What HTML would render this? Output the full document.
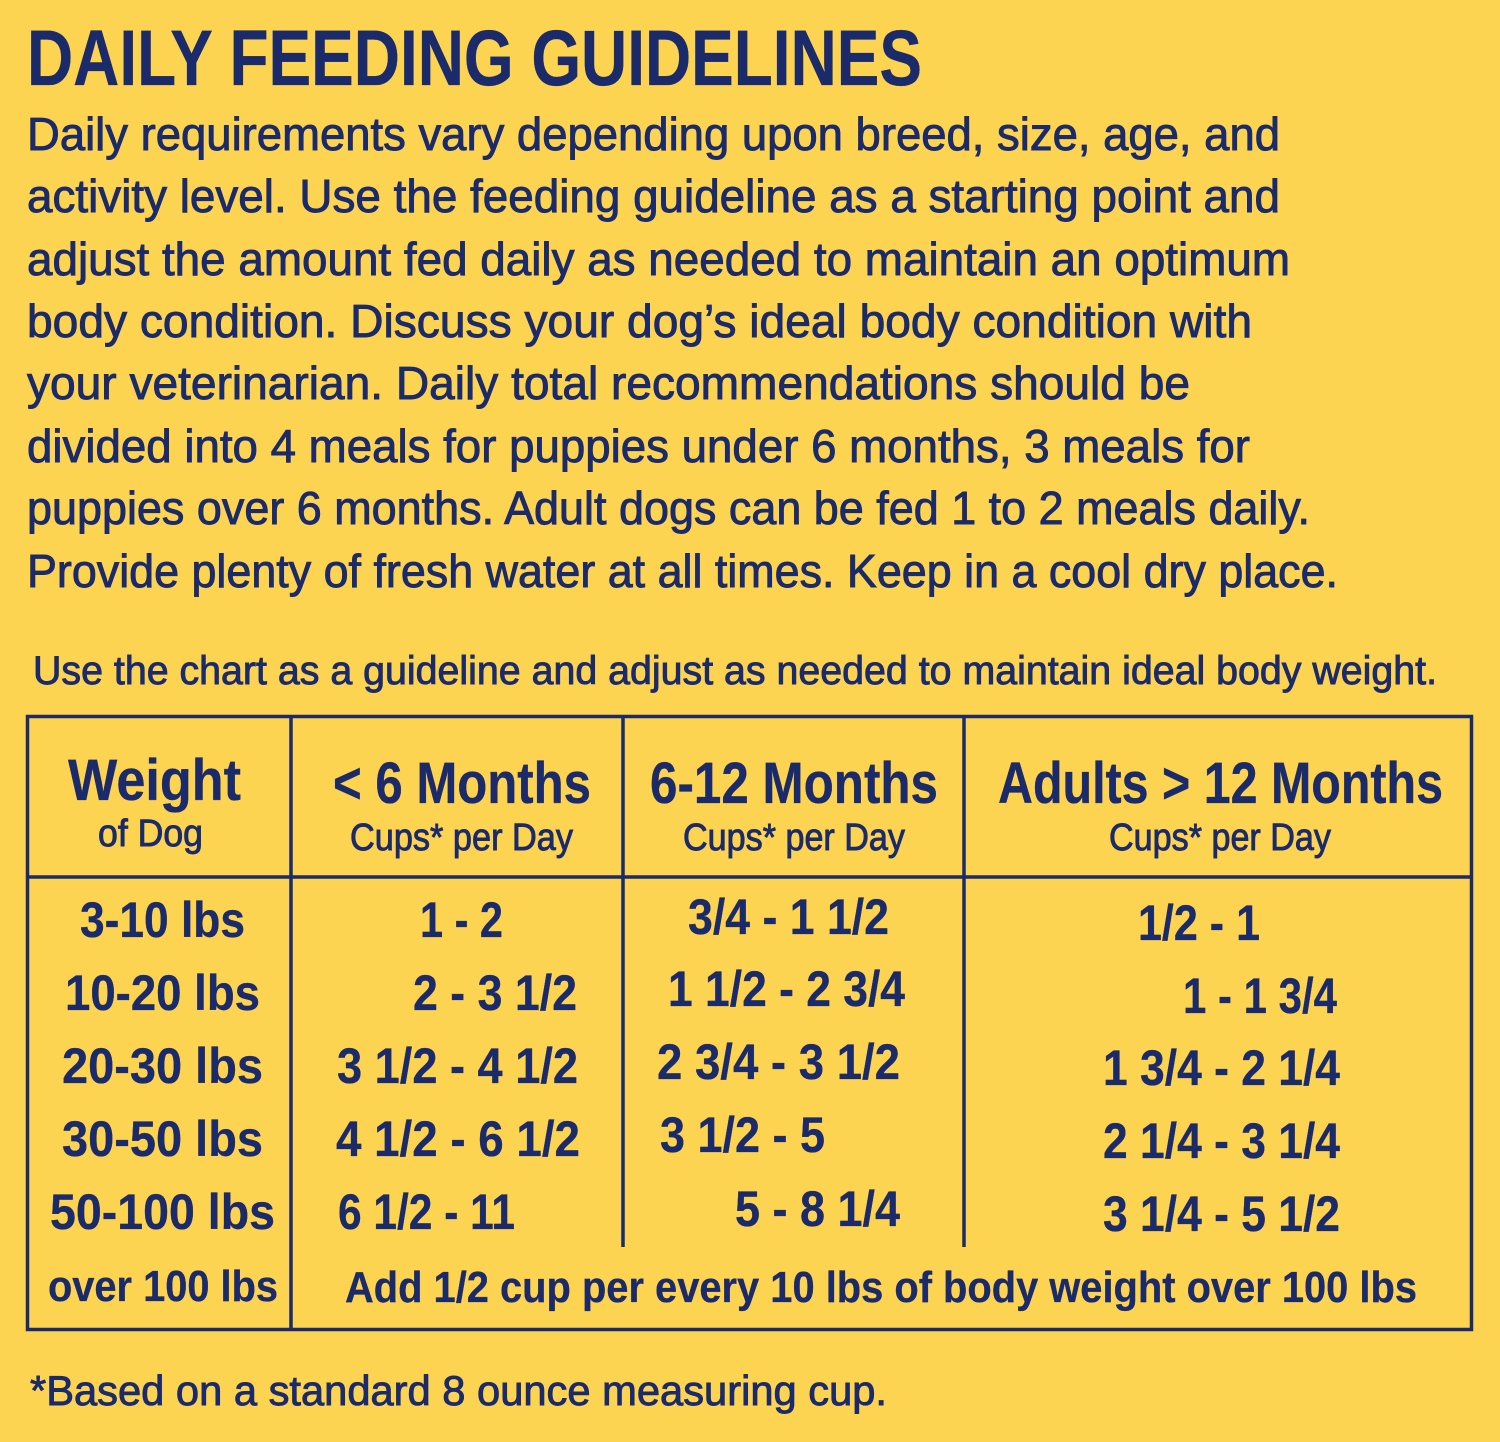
<!DOCTYPE html>
<html><head><meta charset="utf-8"><style>
html,body{margin:0;padding:0;background:#FDD451;}
svg{display:block}
text{font-family:"Liberation Sans Narrow","Liberation Sans",sans-serif;fill:#1B2A6B;stroke:#1B2A6B;stroke-width:0.9}
.b{font-weight:bold;stroke-width:0.3}
</style></head><body>
<svg width="1500" height="1442" viewBox="0 0 1500 1442" xmlns="http://www.w3.org/2000/svg">
<rect width="1500" height="1442" fill="#FDD451"/>
<g>
<text class="b" x="27" y="85" font-size="79" textLength="895" lengthAdjust="spacingAndGlyphs">DAILY FEEDING GUIDELINES</text>
<g font-size="46">
<text x="27" y="150" textLength="1253" lengthAdjust="spacingAndGlyphs">Daily requirements vary depending upon breed, size, age, and</text>
<text x="27" y="212" textLength="1253" lengthAdjust="spacingAndGlyphs">activity level. Use the feeding guideline as a starting point and</text>
<text x="27" y="275" textLength="1263" lengthAdjust="spacingAndGlyphs">adjust the amount fed daily as needed to maintain an optimum</text>
<text x="27" y="337" textLength="1225" lengthAdjust="spacingAndGlyphs">body condition. Discuss your dog’s ideal body condition with</text>
<text x="27" y="399" textLength="1163" lengthAdjust="spacingAndGlyphs">your veterinarian. Daily total recommendations should be</text>
<text x="27" y="462" textLength="1223" lengthAdjust="spacingAndGlyphs">divided into 4 meals for puppies under 6 months, 3 meals for</text>
<text x="27" y="524" textLength="1283" lengthAdjust="spacingAndGlyphs">puppies over 6 months. Adult dogs can be fed 1 to 2 meals daily.</text>
<text x="27" y="587" textLength="1311" lengthAdjust="spacingAndGlyphs">Provide plenty of fresh water at all times. Keep in a cool dry place.</text>
</g>
<text x="33" y="684" font-size="40" textLength="1404" lengthAdjust="spacingAndGlyphs">Use the chart as a guideline and adjust as needed to maintain ideal body weight.</text>
</g>
<g stroke="#1B2A6B" stroke-width="3.5" fill="none">
<rect x="27.5" y="716.5" width="1444" height="613"/>
<line x1="27" y1="877" x2="1472" y2="877"/>
<line x1="291" y1="716" x2="291" y2="1330"/>
<line x1="623" y1="716" x2="623" y2="1247"/>
<line x1="964" y1="716" x2="964" y2="1247"/>
</g>
<g font-size="58">
<text class="b" x="68" y="800" textLength="173" lengthAdjust="spacingAndGlyphs">Weight</text>
<text class="b" x="333" y="803" textLength="258" lengthAdjust="spacingAndGlyphs">&lt; 6 Months</text>
<text class="b" x="650" y="803" textLength="288" lengthAdjust="spacingAndGlyphs">6-12 Months</text>
<text class="b" x="998" y="803" textLength="445" lengthAdjust="spacingAndGlyphs">Adults &gt; 12 Months</text>
</g>
<g font-size="38">
<text x="98" y="846" textLength="105" lengthAdjust="spacingAndGlyphs">of Dog</text>
<text x="350" y="850" textLength="223" lengthAdjust="spacingAndGlyphs">Cups* per Day</text>
<text x="683" y="850" textLength="222" lengthAdjust="spacingAndGlyphs">Cups* per Day</text>
<text x="1109" y="850" textLength="222" lengthAdjust="spacingAndGlyphs">Cups* per Day</text>
</g>
<g font-size="50">
<text class="b" x="80" y="937" textLength="165" lengthAdjust="spacingAndGlyphs">3-10 lbs</text>
<text class="b" x="65" y="1010" textLength="195" lengthAdjust="spacingAndGlyphs">10-20 lbs</text>
<text class="b" x="62" y="1083" textLength="201" lengthAdjust="spacingAndGlyphs">20-30 lbs</text>
<text class="b" x="62" y="1156" textLength="201" lengthAdjust="spacingAndGlyphs">30-50 lbs</text>
<text class="b" x="50" y="1229" textLength="225" lengthAdjust="spacingAndGlyphs">50-100 lbs</text>
<text class="b" x="48" y="1301" font-size="44" textLength="230" lengthAdjust="spacingAndGlyphs">over 100 lbs</text>

<text class="b" x="420" y="937" textLength="83" lengthAdjust="spacingAndGlyphs">1 - 2</text>
<text class="b" x="413" y="1010" textLength="164" lengthAdjust="spacingAndGlyphs">2 - 3 1/2</text>
<text class="b" x="337" y="1083" textLength="241" lengthAdjust="spacingAndGlyphs">3 1/2 - 4 1/2</text>
<text class="b" x="336" y="1156" textLength="244" lengthAdjust="spacingAndGlyphs">4 1/2 - 6 1/2</text>
<text class="b" x="338" y="1229" textLength="177" lengthAdjust="spacingAndGlyphs">6 1/2 - 11</text>

<text class="b" x="688" y="934" textLength="201" lengthAdjust="spacingAndGlyphs">3/4 - 1 1/2</text>
<text class="b" x="668" y="1006" textLength="237" lengthAdjust="spacingAndGlyphs">1 1/2 - 2 3/4</text>
<text class="b" x="657" y="1079" textLength="243" lengthAdjust="spacingAndGlyphs">2 3/4 - 3 1/2</text>
<text class="b" x="660" y="1152" textLength="165" lengthAdjust="spacingAndGlyphs">3 1/2 - 5</text>
<text class="b" x="735" y="1226" textLength="165" lengthAdjust="spacingAndGlyphs">5 - 8 1/4</text>

<text class="b" x="1138" y="940" textLength="122" lengthAdjust="spacingAndGlyphs">1/2 - 1</text>
<text class="b" x="1183" y="1013" textLength="154" lengthAdjust="spacingAndGlyphs">1 - 1 3/4</text>
<text class="b" x="1103" y="1085" textLength="237" lengthAdjust="spacingAndGlyphs">1 3/4 - 2 1/4</text>
<text class="b" x="1103" y="1158" textLength="237" lengthAdjust="spacingAndGlyphs">2 1/4 - 3 1/4</text>
<text class="b" x="1103" y="1231" textLength="237" lengthAdjust="spacingAndGlyphs">3 1/4 - 5 1/2</text>

<text class="b" x="345" y="1302" font-size="44" textLength="1072" lengthAdjust="spacingAndGlyphs">Add 1/2 cup per every 10 lbs of body weight over 100 lbs</text>
</g>
<text x="30" y="1405" font-size="42" textLength="857" lengthAdjust="spacingAndGlyphs">*Based on a standard 8 ounce measuring cup.</text>
</svg>
</body></html>
